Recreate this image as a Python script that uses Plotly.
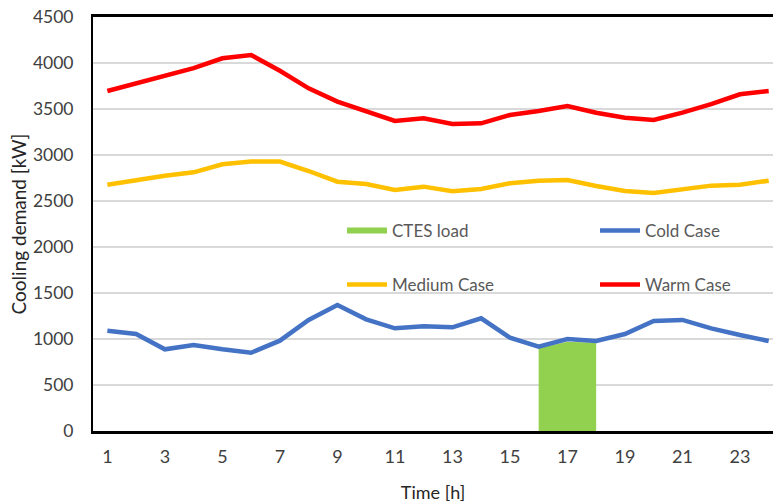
import plotly.graph_objects as go

hours = list(range(1, 25))
cold_case = [1090, 1054, 888, 935, 888, 851, 982, 1207, 1370, 1214, 1116, 1138,
             1127, 1225, 1014, 917, 1000, 978, 1054, 1196, 1207, 1116, 1043, 978]
medium_case = [2677, 2728, 2775, 2812, 2899, 2928, 2928, 2826, 2710, 2685, 2620, 2656,
               2605, 2630, 2692, 2721, 2728, 2663, 2609, 2587, 2630, 2667, 2677, 2721]
warm_case = [3696, 3780, 3870, 3945, 4051, 4087, 3916, 3725, 3580, 3471, 3370, 3399,
             3337, 3344, 3435, 3478, 3533, 3460, 3406, 3380, 3460, 3554, 3660, 3696]
ctes_load = [0] * 15 + [900, 970, 960] + [0] * 6
x_ticks = list(range(1, 24, 2))

# polygon for the CTES area (vertical edges at start and end of the load window)
ctes_h = [h for h, v in zip(hours, ctes_load) if v > 0]
ctes_v = [v for v in ctes_load if v > 0]
area_x = [ctes_h[0]] + ctes_h + [ctes_h[-1]]
area_y = [0] + ctes_v + [0]

FONT = "Lato"
fig = go.Figure()
fig.add_trace(go.Scatter(x=area_x, y=area_y, fill="toself", mode="none",
                         fillcolor="#92d050", name="CTES load", legend="legend"))
fig.add_trace(go.Scatter(x=hours, y=cold_case, mode="lines", name="Cold Case",
                         line=dict(color="#4472c4", width=4.5), legend="legend2"))
fig.add_trace(go.Scatter(x=hours, y=medium_case, mode="lines", name="Medium Case",
                         line=dict(color="#ffc000", width=4.5), legend="legend3"))
fig.add_trace(go.Scatter(x=hours, y=warm_case, mode="lines", name="Warm Case",
                         line=dict(color="#ff0000", width=4.5), legend="legend4"))

W, H = 773, 503
L, R, T, B = 93, 0, 17, 72

def lg(px, py):
    return dict(x=(px - L) / (W - L - R), y=1 - (py - T) / (H - T - B),
                xanchor="left", yanchor="middle", bgcolor="rgba(0,0,0,0)",
                font=dict(family=FONT, size=17, color="#595959"), itemwidth=40)

fig.update_layout(
    width=W, height=H,
    margin=dict(l=L, r=R, t=T, b=B, autoexpand=False),
    plot_bgcolor="white", paper_bgcolor="white",
    showlegend=True,
    legend=lg(342, 231), legend2=lg(595, 231), legend3=lg(342, 285), legend4=lg(595, 285),
    xaxis=dict(range=[0.5, 24.15], tickvals=x_ticks, showgrid=False, zeroline=False,
               showline=True, linecolor="black", linewidth=2.5, mirror=True,
               ticks="outside", ticklen=8, tickcolor="rgba(0,0,0,0)", automargin=False,
               tickfont=dict(family=FONT, size=18, color="#404040"),
               title=dict(text="Time [h]", font=dict(family=FONT, size=18, color="#262626"), standoff=21)),
    yaxis=dict(range=[0, 4500], dtick=500, showgrid=True, gridcolor="#d9d9d9", gridwidth=1.5,
               zeroline=False, showline=True, linecolor="black", linewidth=2,
               ticks="outside", ticklen=14, tickcolor="rgba(0,0,0,0)", automargin=False,
               tickfont=dict(family=FONT, size=17.5, color="#404040"),
               title=dict(text="Cooling demand [kW]", font=dict(family=FONT, size=19, color="#262626"), standoff=1)),
)

fig.write_html("out.html", config={"displayModeBar": False},
               post_script="document.body.style.margin='0';document.body.style.overflow='hidden';")
